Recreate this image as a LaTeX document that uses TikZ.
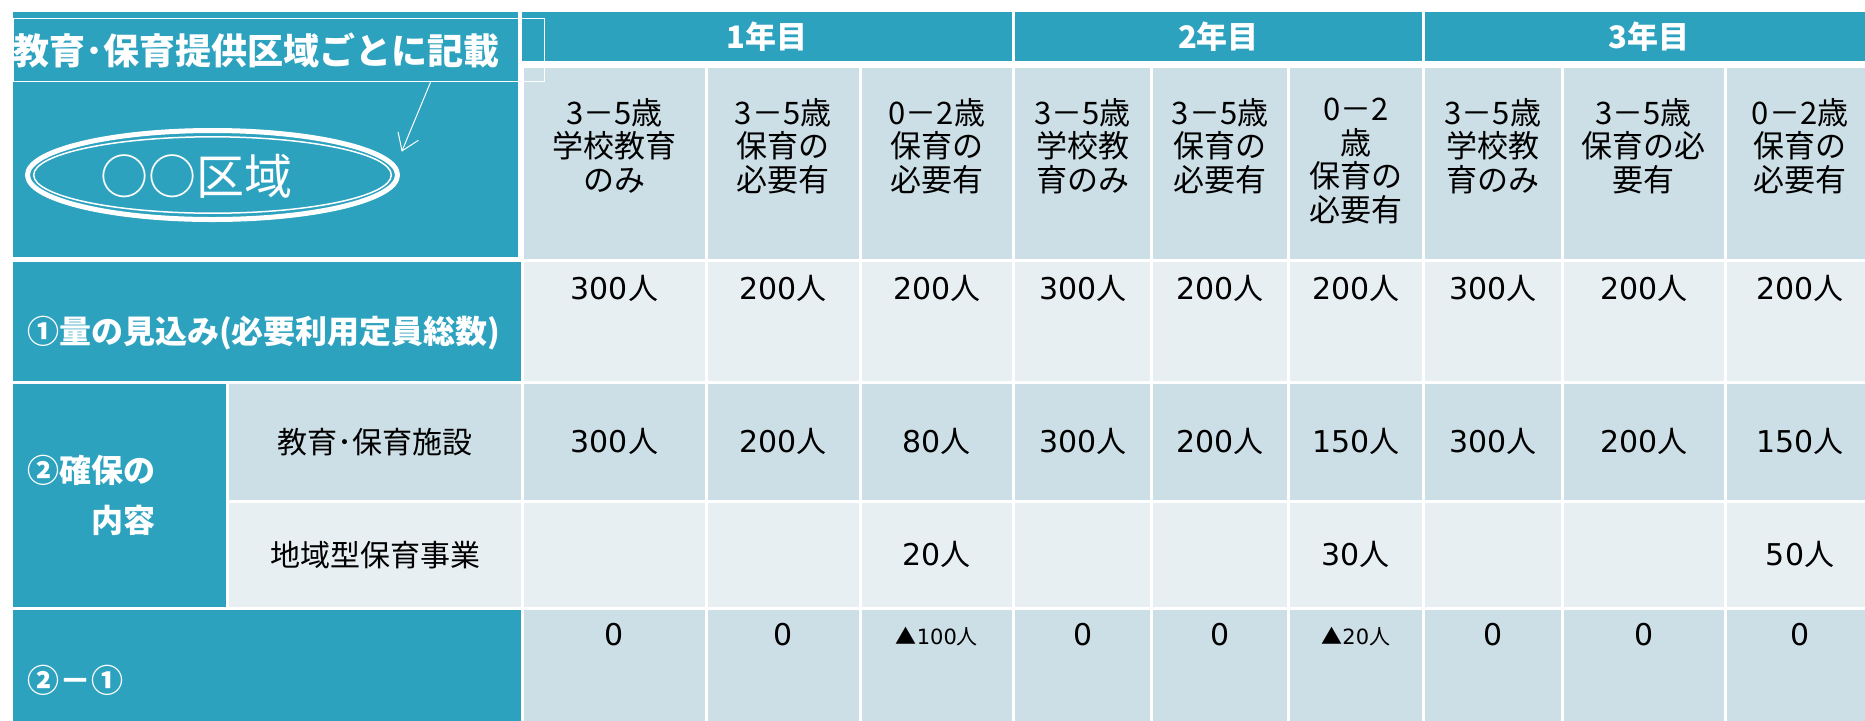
\documentclass[tikz,border=0pt]{standalone}
\usepackage{fontspec}
\setmainfont{Noto Sans CJK JP}
\newfontfamily\digitfont{DejaVu Sans}
\usetikzlibrary{arrows.meta,positioning,calc,shapes.geometric}
\definecolor{zoneteal}{RGB}{44,162,191}
\definecolor{headblue}{RGB}{204,223,230}
\definecolor{paleblue}{RGB}{232,239,242}
\tikzset{
  >={Straight Barb[length=8pt,width=11pt]},
  cell/.style={draw=white,line width=1.5pt,inner sep=0pt,outer sep=0pt},
  tealcell/.style={cell,fill=zoneteal},
  headcell/.style={cell,fill=headblue},
  palecell/.style={cell,fill=paleblue},
  yearlbl/.style={text=white,font=\bfseries\fontsize{15.5}{18}\selectfont,inner sep=0pt},
  rowlbl/.style={text=white,font=\bfseries\fontsize{16}{25}\selectfont,inner sep=0pt,align=left},
  headtxt/.style={font=\fontsize{15.5}{16.7}\selectfont,align=center,inner sep=0pt},
  subtxt/.style={font=\fontsize{15}{18}\selectfont,inner sep=0pt},
  val/.style={font=\fontsize{15}{18}\selectfont,inner sep=0pt},
  smallval/.style={font=\fontsize{10.5}{12}\selectfont,inner sep=0pt},
  pointer/.style={->,white,line width=0.5pt},
}
\newcommand{\tabcell}[6]{%
  \node[#1,minimum width={(#4-#3)*0.5pt},minimum height={(#6-#5)*0.5pt}] (#2) at ({(#3+#4)/2},{(#5+#6)/2}) {};}

\begin{document}
\begin{tikzpicture}[x=0.5pt,y=-0.5pt]
	\fill[white] (0,0) rectangle (1865,720);
	\useasboundingbox (0,0) rectangle (1865,720);

	\tabcell{tealcell}{corner}{11.8}{519.8}{10.2}{258.2}
	\tabcell{tealcell}{need}{11.8}{522.5}{260}{382.5}
	\tabcell{tealcell}{secure}{11.8}{227.8}{382.5}{608.3}
	\tabcell{headcell}{facility}{227.8}{522.5}{382.5}{501.3}
	\tabcell{palecell}{local}{227.8}{522.5}{501.3}{608.3}
	\tabcell{tealcell}{diff}{11.8}{522.5}{608.3}{725}

	\foreach \xa/\xb [count=\i] in {520.2/1013.8,1013.8/1423.3,1423.3/1875} {
		\tabcell{tealcell}{y\i}{\xa}{\xb}{10.2}{62.2}
		\node[yearlbl] (yl\i) at (y\i) {{\i}年目};
	}

	\foreach \xa/\xb [count=\i] in {522.5/706.3,706.3/860,860/1013.8,1013.8/1151.7,1151.7/1288.3,1288.3/1423.3,1423.3/1562.3,1562.3/1725,1725/1875} {
		\tabcell{headcell}{h\i}{\xa}{\xb}{66.8}{260}
		\tabcell{palecell}{a\i}{\xa}{\xb}{260}{382.5}
		\tabcell{headcell}{b\i}{\xa}{\xb}{382.5}{501.3}
		\tabcell{palecell}{c\i}{\xa}{\xb}{501.3}{608.3}
		\tabcell{headcell}{d\i}{\xa}{\xb}{608.3}{725}
	}

	\foreach \t [count=\i] in {{3－5歳\\学校教育\\のみ},{3－5歳\\保育の\\必要有},{0－2歳\\保育の\\必要有},
		{3－5歳\\学校教\\育のみ},{3－5歳\\保育の\\必要有},{0－2\\歳\\保育の\\必要有},
		{3－5歳\\学校教\\育のみ},{3－5歳\\保育の必\\要有},{0－2歳\\保育の\\必要有}}
		\node[headtxt,anchor=north] (ht\i) at ([yshift=-15.6pt]h\i.north) {\t};

	\foreach \n [count=\i] in {300,200,200,300,200,200,300,200,200}
		\node[val,anchor=north] (av\i) at ([yshift=-7.5pt]a\i.north) {{\digitfont\n}人};
	\foreach \n [count=\i] in {300,200,80,300,200,150,300,200,150}
		\node[val] (bv\i) at (b\i) {{\digitfont\n}人};
	\foreach \i/\n in {3/20,6/30,9/50}
		\node[val] (cv\i) at (c\i) {{\digitfont\n}人};
	\foreach \i in {1,2,4,5,7,8,9}
		\node[val,anchor=north] (dv\i) at ([yshift=-7.35pt]d\i.north) {\digitfont 0};
	\foreach \i/\n in {3/100,6/20}
		\node[smallval,anchor=north] (dv\i) at ([yshift=-9.2pt]d\i.north) {▲{\digitfont\n}人};

	\node[rowlbl,anchor=west] (needlbl) at ([xshift=7.5pt,yshift=-5.9pt]need.west) {①量の見込み(必要利用定員総数)};
	\node[rowlbl,anchor=west] (securelbl) at ([xshift=7.5pt]secure.west) {②確保の\\　　内容};
	\node[rowlbl,anchor=west] (difflbl) at ([xshift=7.5pt,yshift=-6.7pt]diff.west) {②－①};
	\node[subtxt] (facilitylbl) at (facility) {教育･保育施設};
	\node[subtxt] (locallbl) at (local) {地域型保育事業};

	\node[draw=white,line width=0.5pt,inner sep=0pt,anchor=north west,minimum width=265.5pt,minimum height=31.5pt,
		text width=265.5pt,align=left,text=white,font=\bfseries\fontsize{18}{20}\selectfont] (zone) at (13.3,18.3) {教育･保育提供区域ごとに記載};
	\node[ellipse,draw=white,line width=2.5pt,minimum width=185pt,minimum height=44.5pt,inner sep=0pt] (oval) at (212.5,175) {};
	\draw[white,line width=0.75pt] (oval.center) ellipse [x radius=89.4pt,y radius=19.1pt];
	\node[text=white,font=\fontsize{24}{28}\selectfont,inner sep=0pt] (area) at ([xshift=-8pt,yshift=-0.8pt]oval.center) {○○区域};
	\coordinate (tip) at (401.7,151.7);
	\draw[pointer] ([xshift=75.6pt]zone.south) -- (tip);
\end{tikzpicture}
\end{document}
